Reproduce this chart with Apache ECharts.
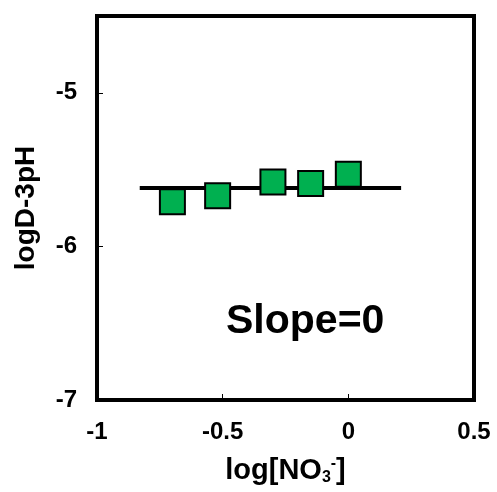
<!DOCTYPE html>
<html>
<head>
<meta charset="utf-8">
<script src="https://cdn.jsdelivr.net/npm/echarts@6/dist/echarts.min.js"></script>
<style>html,body{margin:0;padding:0;background:#fff;}#c{width:497px;height:492px;}</style>
</head>
<body>
<div id="c"></div>
<script>
var xValues = [-0.70, -0.52, -0.30, -0.15, 0.00];
var yValues = [-5.71, -5.67, -5.58, -5.59, -5.53];
var fitX = [-0.83, 0.21];
var fitY = [-5.62, -5.62];
var xTicks = [-1, -0.5, 0, 0.5];
var yTicks = [-7, -6, -5];
var annotation = 'Slope=0';

var FONT = '"Liberation Sans", Arial, sans-serif';
var chart = echarts.init(document.getElementById('c'), null, {renderer: 'canvas'});
var pts = xValues.map(function (x, i) { return [x, yValues[i]]; });
var fit = fitX.map(function (x, i) { return [x, fitY[i]]; });

chart.setOption({
  animation: false,
  backgroundColor: '#fff',
  grid: {left: 97, right: 23, top: 16, bottom: 92, show: true, borderColor: '#000', borderWidth: 4,
         backgroundColor: 'transparent', containLabel: false, outerBoundsMode: 'none'},
  xAxis: {
    type: 'value', min: -1, max: 0.5, interval: 0.5,
    name: '{a|log[NO}{sub|3}{sup|-}{a|]}',
    nameLocation: 'middle', nameGap: 56,
    nameTextStyle: {
      rich: {
        a: {fontFamily: FONT, fontWeight: 'bold', fontSize: 29, color: '#000', verticalAlign: 'middle'},
        sub: {fontFamily: FONT, fontWeight: 'bold', fontSize: 16, color: '#000', verticalAlign: 'bottom', padding: [14, 0, 0, 0]},
        sup: {fontFamily: FONT, fontWeight: 'bold', fontSize: 16, color: '#000', verticalAlign: 'top', padding: [0, 0, 10, 0]}
      }
    },
    axisLine: {show: true, onZero: false, lineStyle: {color: '#000', width: 4}},
    axisTick: {show: true, inside: true, length: 6, lineStyle: {color: '#000', width: 1}},
    splitLine: {show: false},
    axisLabel: {
      margin: 20, color: '#000', fontFamily: FONT, fontWeight: 'bold', fontSize: 24,
      formatter: function (v) { return xTicks.indexOf(v) >= 0 ? String(v) : ''; }
    }
  },
  yAxis: {
    type: 'value', min: -7, max: -4.5, interval: 1,
    name: 'logD-3pH', nameLocation: 'middle', nameGap: 57,
    nameTextStyle: {fontFamily: FONT, fontWeight: 'bold', fontSize: 28, color: '#000'},
    axisLine: {show: true, onZero: false, lineStyle: {color: '#000', width: 4}},
    axisTick: {show: true, inside: true, length: 6, lineStyle: {color: '#000', width: 1}},
    splitLine: {show: false},
    axisLabel: {
      margin: 20, color: '#000', fontFamily: FONT, fontWeight: 'bold', fontSize: 24,
      formatter: function (v) { return yTicks.indexOf(v) >= 0 ? String(v) : ''; }
    }
  },
  series: [
    {
      type: 'line', data: fit, symbol: 'none', z: 2,
      lineStyle: {color: '#000', width: 4}
    },
    {
      type: 'scatter', data: pts, symbol: 'rect', symbolSize: [25, 25], z: 3,
      itemStyle: {color: '#00B050', borderColor: '#000', borderWidth: 2, opacity: 1}
    }
  ],
  graphic: [{
    type: 'text', left: 226, top: 301,
    style: {text: annotation, font: 'bold 41px ' + FONT, fill: '#000'}
  }]
});
</script>
</body>
</html>
